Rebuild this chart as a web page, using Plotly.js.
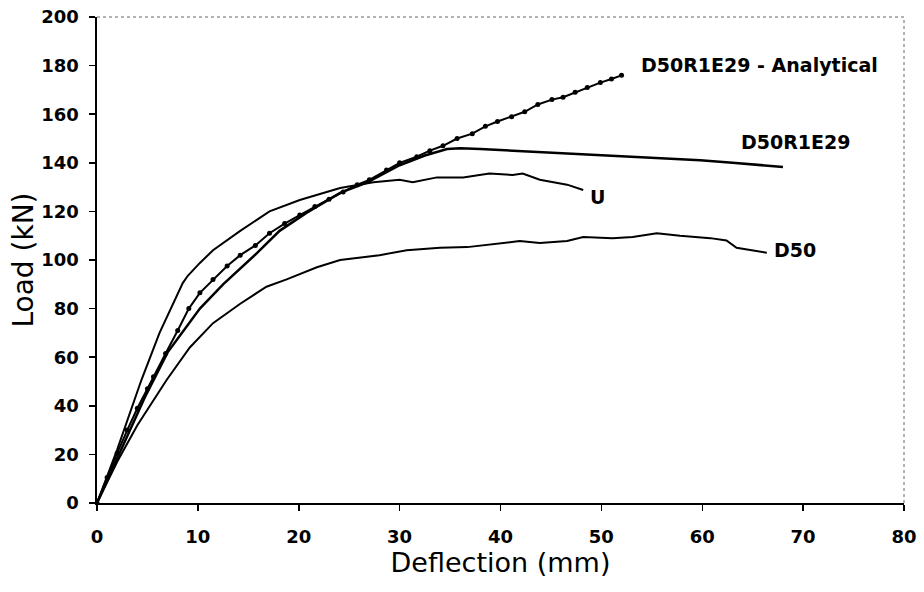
<!DOCTYPE html>
<html>
<head>
<meta charset="utf-8">
<script src="https://cdn.plot.ly/plotly-3.0.1.min.js"></script>
<style>html,body{margin:0;padding:0;background:#fff;}#chart{width:924px;height:592px;}</style>
</head>
<body>
<div id="chart"></div>
<script>
// D50R1E29 - Analytical (line with markers)
var anaX = [0, 1, 2, 3, 4, 5, 5.6, 6.8, 8, 9.1, 10.2, 11.5, 12.9, 14.2, 15.7, 17.1, 18.6, 20.1, 21.6, 23, 24.4, 25.8, 27, 28.7, 30, 31.7, 33, 34.3, 35.7, 37.2, 38.5, 39.7, 41.1, 42.4, 43.7, 45.1, 46.2, 47.4, 48.6, 49.9, 51, 52];
var anaY = [0, 10.5, 20.5, 30, 39, 47, 52, 61.5, 71, 80, 86.5, 92, 97.5, 102, 106, 111, 115, 118.5, 122, 125, 128, 131, 133, 137, 140, 142.5, 145, 147, 150, 152, 155, 157, 159, 161, 164, 166, 167, 169, 171, 173, 174.5, 176];

// D50R1E29 (test)
var rX = [0, 2.3, 4.8, 7.0, 10.2, 12.5, 15.9, 18.1, 20.8, 24.1, 26.8, 30, 32.5, 34.7, 36, 38, 41.2, 46.2, 52.5, 59.8, 63, 68];
var rY = [0, 21, 44, 62, 80, 90, 103, 112, 119.5, 127.6, 132, 139, 143, 145.7, 146, 145.7, 145, 144, 142.4, 141, 140, 138.3];

// U (unstrengthened)
var uX = [0, 2, 4.4, 6.2, 8.5, 9, 10.2, 11.5, 14.2, 17.1, 20.1, 24.1, 27.4, 30, 31.3, 33.7, 36.3, 38.9, 41.2, 42.2, 43.9, 46.6, 48.2];
var uY = [0, 22, 50.6, 70, 90.5, 93.5, 98.8, 104, 112, 120, 124.7, 129.6, 132, 133, 132, 134, 134, 135.6, 135, 135.6, 133, 131, 128.8];

// D50 (damaged)
var dX = [0, 2, 4, 5.6, 6.9, 9.2, 11.5, 14.2, 16.8, 18.8, 21.8, 24.1, 28, 30.7, 34, 36.7, 39.6, 41.9, 43.9, 46.6, 48.2, 51.1, 53.1, 55.5, 57.8, 60.8, 62.4, 63.4, 66.4];
var dY = [0, 17, 32, 42, 50.6, 64, 74, 82, 89, 92, 97, 100, 102, 104, 105, 105.3, 106.6, 107.8, 107, 107.8, 109.5, 109, 109.5, 111, 110, 109, 108, 105, 103];

// Curve labels
var labelText = ["D50R1E29 - Analytical", "D50R1E29", "U", "D50"];
var labelX = [53.7, 63.6, 48.7, 66.9];
var labelY = [180.2, 148.6, 126, 104.1];

var xTicks = [0, 10, 20, 30, 40, 50, 60, 70, 80];
var yTicks = [0, 20, 40, 60, 80, 100, 120, 140, 160, 180, 200];

var traces = [
  {x: anaX, y: anaY, mode: 'lines+markers', line: {color: '#000', width: 2}, marker: {color: '#000', size: 5}},
  {x: rX, y: rY, mode: 'lines', line: {color: '#000', width: 2.5}},
  {x: uX, y: uY, mode: 'lines', line: {color: '#000', width: 2}},
  {x: dX, y: dY, mode: 'lines', line: {color: '#000', width: 2}}
];

var annotations = labelText.map(function (t, i) {
  return {x: labelX[i], y: labelY[i], xref: 'x', yref: 'y', text: t, showarrow: false,
    xanchor: 'left', yanchor: 'middle',
    font: {family: 'DejaVu Sans', size: 19, color: '#000', weight: 'bold'}};
});

var layout = {
  width: 924, height: 592,
  margin: {l: 97, r: 20, t: 17, b: 89},
  paper_bgcolor: '#fff', plot_bgcolor: '#fff',
  showlegend: false,
  font: {family: 'DejaVu Sans', color: '#000'},
  xaxis: {
    range: [0, 80], tickvals: xTicks, ticktext: xTicks.map(String),
    showgrid: false, zeroline: false, showline: true, linecolor: '#000', linewidth: 2,
    ticks: 'outside', ticklen: 6, tickwidth: 1.5, tickcolor: '#000',
    ticklabelstandoff: 10,
    tickfont: {family: 'DejaVu Sans', size: 18, color: '#000', weight: 'bold'},
    title: {text: 'Deflection (mm)', font: {family: 'DejaVu Sans', size: 27, color: '#000'}, standoff: 6}
  },
  yaxis: {
    range: [0, 200], tickvals: yTicks, ticktext: yTicks.map(String),
    showgrid: false, zeroline: false, showline: true, linecolor: '#000', linewidth: 2.5,
    ticks: 'outside', ticklen: 6, tickwidth: 1.5, tickcolor: '#000',
    ticklabelstandoff: 6,
    tickfont: {family: 'DejaVu Sans', size: 18, color: '#000', weight: 'bold'},
    title: {text: 'Load (kN)', font: {family: 'DejaVu Sans', size: 28, color: '#000'}, standoff: 0}
  },
  shapes: [
    {type: 'line', xref: 'paper', yref: 'paper', x0: 0, x1: 1, y0: 1, y1: 1, line: {color: '#666', width: 1, dash: 'dot'}},
    {type: 'line', xref: 'paper', yref: 'paper', x0: 1, x1: 1, y0: 0, y1: 1, line: {color: '#666', width: 1, dash: 'dot'}}
  ],
  annotations: annotations
};

Plotly.newPlot('chart', traces, layout, {displayModeBar: false, staticPlot: true});
</script>
</body>
</html>
